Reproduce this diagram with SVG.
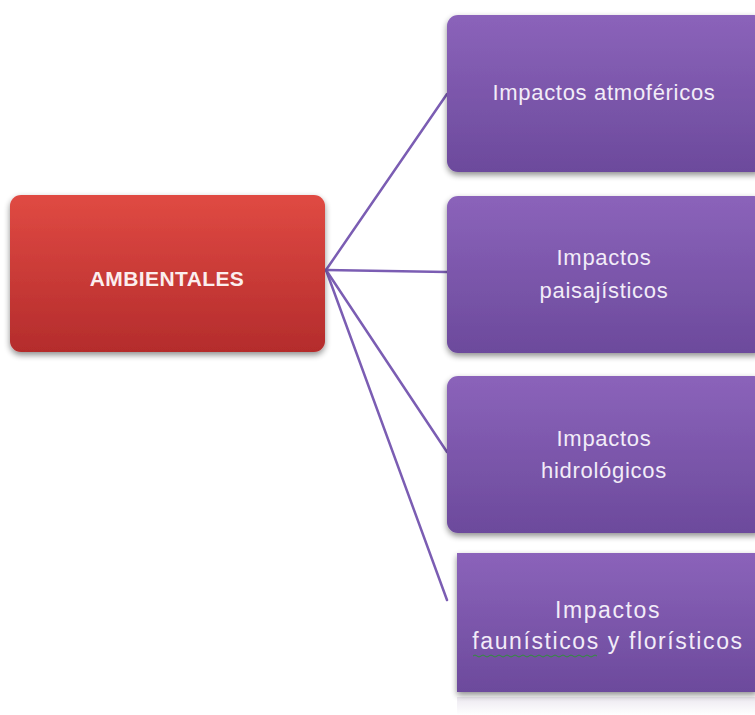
<svg xmlns="http://www.w3.org/2000/svg" width="755" height="715" viewBox="0 0 755 715">
<style>
.t{font-family:"Liberation Sans",Arial,sans-serif;font-size:22px;letter-spacing:0.7px;fill:#f2ecf8;text-anchor:middle}
.f{font-size:23px;letter-spacing:1.6px}
.b{font-family:"Liberation Sans",Arial,sans-serif;font-size:21px;letter-spacing:0.4px;font-weight:bold;fill:#fbeeee;text-anchor:middle}
.c{stroke:#7b5db3;stroke-width:2.5;fill:none;stroke-linecap:round}
</style>
<defs>
<linearGradient id="gp" x1="0" y1="0" x2="0" y2="1">
<stop offset="0" stop-color="#8b63ba"/>
<stop offset="1" stop-color="#6c4a9c"/>
</linearGradient>
<linearGradient id="gr" x1="0" y1="0" x2="0" y2="1">
<stop offset="0" stop-color="#e04a43"/>
<stop offset="1" stop-color="#b42c2c"/>
</linearGradient>
<linearGradient id="gref" x1="0" y1="0" x2="0" y2="1">
<stop offset="0" stop-color="#ece8f0"/>
<stop offset="1" stop-color="#ffffff"/>
</linearGradient>
<filter id="sh" x="-10%" y="-10%" width="120%" height="130%">
<feGaussianBlur in="SourceAlpha" stdDeviation="3"/>
<feOffset dy="3"/>
<feComponentTransfer><feFuncA type="linear" slope="0.45"/></feComponentTransfer>
<feMerge><feMergeNode/><feMergeNode in="SourceGraphic"/></feMerge>
</filter>
</defs>
<rect width="755" height="715" fill="#ffffff"/>
<g id="connectors">
<line class="c" x1="326" y1="270" x2="447" y2="94"/>
<line class="c" x1="326" y1="270" x2="447" y2="272"/>
<line class="c" x1="326" y1="270" x2="447" y2="452"/>
<line class="c" x1="326" y1="270" x2="447" y2="600"/>
</g>
<g id="ambientales">
<rect x="10" y="195" width="315" height="157" rx="11" fill="url(#gr)" filter="url(#sh)"/>
<text class="b" x="167" y="286">AMBIENTALES</text>
</g>
<g id="atmofericos">
<rect x="447" y="15" width="318" height="157" rx="11" fill="url(#gp)" filter="url(#sh)"/>
<text class="t" x="604" y="100">Impactos atmoféricos</text>
</g>
<g id="paisajisticos">
<rect x="447" y="196" width="318" height="157" rx="11" fill="url(#gp)" filter="url(#sh)"/>
<text class="t" x="604" y="265">Impactos</text>
<text class="t" x="604" y="298">paisajísticos</text>
</g>
<g id="hidrologicos">
<rect x="447" y="376" width="318" height="157" rx="11" fill="url(#gp)" filter="url(#sh)"/>
<text class="t" x="604" y="446">Impactos</text>
<text class="t" x="604" y="478">hidrológicos</text>
</g>
<g id="faunisticos">
<rect x="457" y="697" width="300" height="18" fill="url(#gref)"/>
<rect x="457" y="553" width="300" height="139" fill="url(#gp)" filter="url(#sh)"/>
<text class="t f" x="608" y="618">Impactos</text>
<text class="t f" x="608" y="649">faunísticos y florísticos</text>
<path d="M473 656 q2 -2 4 0 t4 0 t4 0 t4 0 t4 0 t4 0 t4 0 t4 0 t4 0 t4 0 t4 0 t4 0 t4 0 t4 0 t4 0 t4 0 t4 0 t4 0 t4 0 t4 0 t4 0 t4 0 t4 0 t4 0 t4 0 t4 0 t4 0 t4 0 t4 0 t4 0 t4 0" fill="none" stroke="#2f8f3a" stroke-width="1"/>
</g>
</svg>
